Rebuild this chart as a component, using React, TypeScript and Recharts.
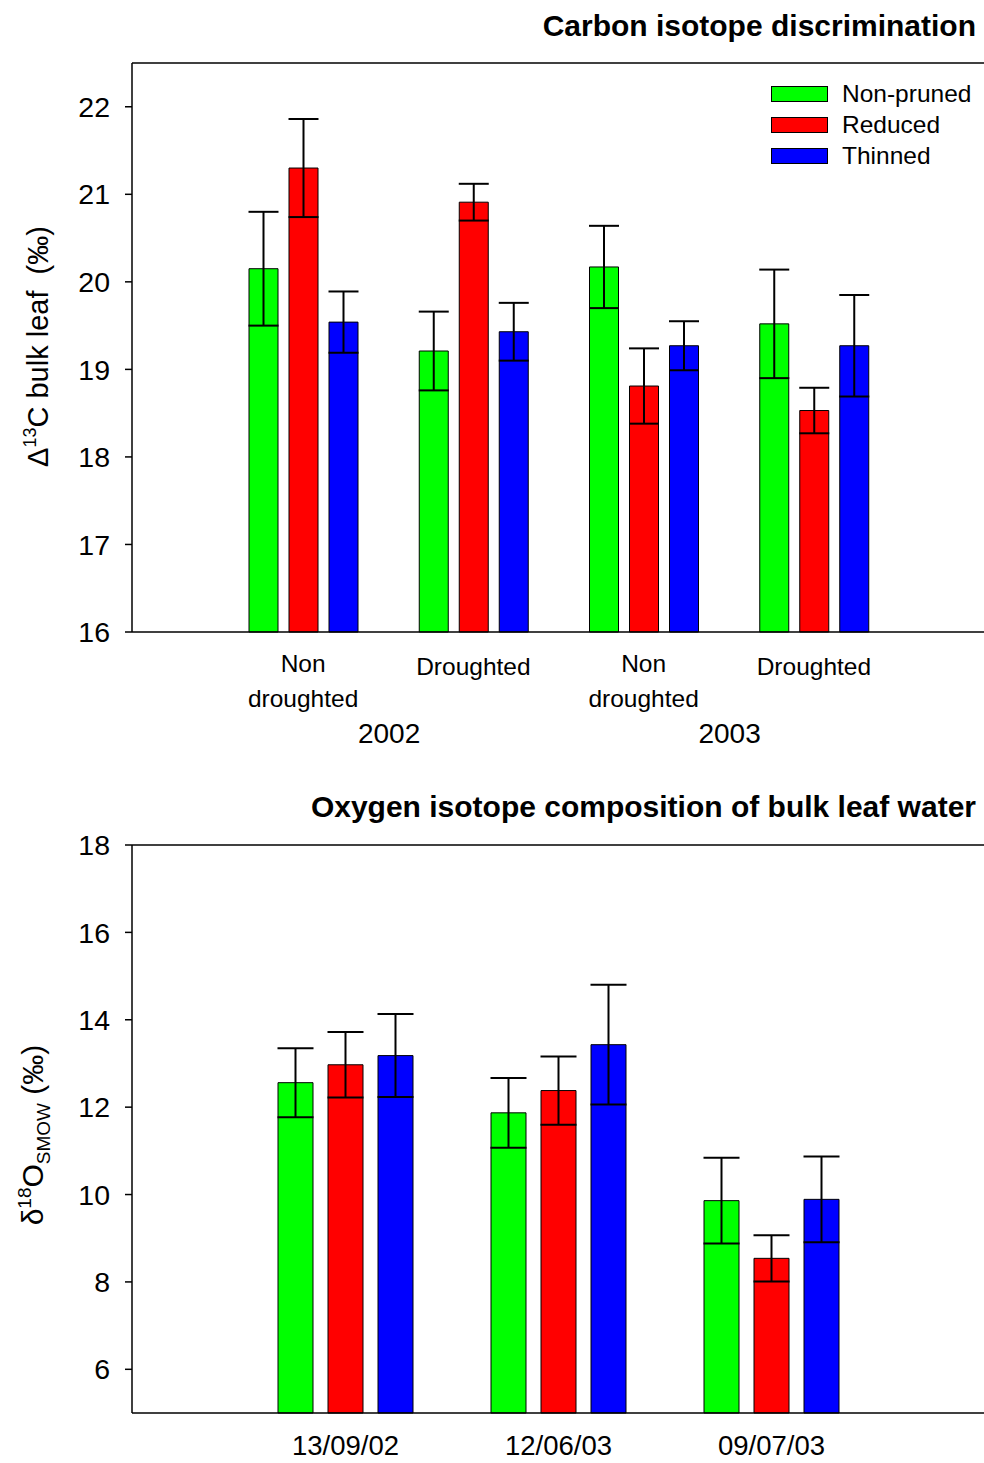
import React from 'react';
import { BarChart, Bar, XAxis, YAxis, ErrorBar, ReferenceLine, Legend } from 'recharts';

// Carbon isotope discrimination, bulk leaf
const conditions = ['Non\ndroughted', 'Droughted', 'Non\ndroughted', 'Droughted'];
const years = ['2002', '2002', '2003', '2003'];
const d13cNonPruned = [20.15, 19.21, 20.17, 19.52];
const d13cNonPrunedErr = [0.65, 0.45, 0.47, 0.62];
const d13cReduced = [21.3, 20.91, 18.81, 18.53];
const d13cReducedErr = [0.56, 0.21, 0.43, 0.26];
const d13cThinned = [19.54, 19.43, 19.27, 19.27];
const d13cThinnedErr = [0.35, 0.33, 0.28, 0.58];
const d13cTicks = [16, 17, 18, 19, 20, 21, 22];

// Oxygen isotope composition of bulk leaf water
const sampleDates = ['13/09/02', '12/06/03', '09/07/03'];
const d18oNonPruned = [12.56, 11.87, 9.86];
const d18oNonPrunedErr = [0.79, 0.8, 0.98];
const d18oReduced = [12.97, 12.38, 8.54];
const d18oReducedErr = [0.75, 0.78, 0.53];
const d18oThinned = [13.18, 13.43, 9.89];
const d18oThinnedErr = [0.95, 1.37, 0.98];
const d18oTicks = [6, 8, 10, 12, 14, 16, 18];

const treatments = [
  { key: 'nonPruned', label: 'Non-pruned', color: '#00FF00' },
  { key: 'reduced', label: 'Reduced', color: '#FF0000' },
  { key: 'thinned', label: 'Thinned', color: '#0000FF' },
];

const carbonData = conditions.map((c, i) => ({
  name: c,
  year: years[i],
  nonPruned: d13cNonPruned[i],
  nonPrunedErr: d13cNonPrunedErr[i],
  reduced: d13cReduced[i],
  reducedErr: d13cReducedErr[i],
  thinned: d13cThinned[i],
  thinnedErr: d13cThinnedErr[i],
}));

const oxygenData = sampleDates.map((d, i) => ({
  name: d,
  nonPruned: d18oNonPruned[i],
  nonPrunedErr: d18oNonPrunedErr[i],
  reduced: d18oReduced[i],
  reducedErr: d18oReducedErr[i],
  thinned: d18oThinned[i],
  thinnedErr: d18oThinnedErr[i],
}));

const FONT = '"Liberation Sans", Arial, Helvetica, sans-serif';
const axisLine = { stroke: '#000', strokeWidth: 1.5 };

function CarbonTick({ x, y, payload, index }: any) {
  const lines = String(payload.value).split('\n');
  const yr = years[index];
  return (
    <g fontFamily={FONT} fill="#000">
      {lines.length > 1 ? (
        lines.map((l, k) => (
          <text key={k} x={x} y={y + 31 + k * 35} dy="0.36em" textAnchor="middle" fontSize={24.5} fill="#000">
            {l}
          </text>
        ))
      ) : (
        <text x={x} y={y + 34} dy="0.36em" textAnchor="middle" fontSize={24.5} fill="#000">
          {lines[0]}
        </text>
      )}
      {index % 2 === 0 && (
        <text x={x + 86} y={y + 101} dy="0.36em" textAnchor="middle" fontSize={28} fill="#000">
          {yr}
        </text>
      )}
    </g>
  );
}

function DateTick({ x, y, payload }: any) {
  return (
    <text x={x} y={y + 42} textAnchor="middle" fontSize={27.5} fontFamily={FONT} fill="#000">
      {payload.value}
    </text>
  );
}

function CarbonLabel({ viewBox }: any) {
  const cx = 38;
  const cy = viewBox.y + viewBox.height / 2 - 1;
  return (
    <text
      x={cx}
      y={cy}
      transform={`rotate(-90, ${cx}, ${cy})`}
      textAnchor="middle"
      dy="0.36em"
      fontSize={29}
      fontFamily={FONT}
      fill="#000"
      style={{ whiteSpace: 'pre' }}
    >
      Δ<tspan fontSize={18} dy={-12}>13</tspan>
      <tspan dy={12}>C bulk leaf  (‰)</tspan>
    </text>
  );
}

function OxygenLabel({ viewBox }: any) {
  const cx = 32;
  const cy = viewBox.y + viewBox.height / 2 + 6;
  return (
    <text
      x={cx}
      y={cy}
      transform={`rotate(-90, ${cx}, ${cy})`}
      textAnchor="middle"
      dy="0.36em"
      fontSize={30}
      fontFamily={FONT}
      fill="#000"
      style={{ whiteSpace: 'pre' }}
    >
      δ<tspan fontSize={19} dy={-12}>18</tspan>
      <tspan dy={12}>O</tspan>
      <tspan fontSize={19} dy={7}>SMOW</tspan>
      <tspan dy={-7}> (‰)</tspan>
    </text>
  );
}

function TreatmentLegend() {
  return (
    <div style={{ fontFamily: FONT }}>
      {treatments.map((t) => (
        <div key={t.key} style={{ display: 'flex', alignItems: 'center', height: 31 }}>
          <div style={{ width: 55, height: 14, background: t.color, border: '1px solid #000' }} />
          <span style={{ marginLeft: 14, fontSize: 24.5, color: '#000' }}>{t.label}</span>
        </div>
      ))}
    </div>
  );
}

const titleStyle: React.CSSProperties = {
  position: 'absolute',
  right: 8,
  fontFamily: FONT,
  fontWeight: 'bold',
  fontSize: 30,
  color: '#000',
  whiteSpace: 'nowrap',
  lineHeight: '34px',
};

export default function App() {
  return (
    <div style={{ position: 'absolute', left: 0, top: 0, width: 984, height: 1463, background: '#fff', overflow: 'hidden' }}>
      <div style={{ ...titleStyle, top: 9 }}>Carbon isotope discrimination</div>
      <div style={{ position: 'absolute', left: 0, top: 0 }}>
        <BarChart width={984} height={760} data={carbonData} margin={{ top: 63, right: 0, left: 0, bottom: 0 }} barSize={29} barGap={11}>
          <XAxis
            dataKey="name"
            height={128}
            padding={{ left: 86, right: 85 }}
            tickLine={false}
            tickSize={0}
            tickMargin={0}
            axisLine={axisLine}
            tick={<CarbonTick />}
            interval={0}
          />
          <YAxis
            width={132}
            domain={[16, 22.5]}
            ticks={d13cTicks}
            interval={0}
            tickSize={7}
            tickMargin={15}
            tickLine={{ stroke: '#000', strokeWidth: 1.5 }}
            axisLine={axisLine}
            tick={{ fill: '#000', fontSize: 28.5, fontFamily: FONT }}
            label={<CarbonLabel />}
          />
          <ReferenceLine y={22.5} stroke="#000" strokeWidth={1.5} />
          <Legend
            layout="vertical"
            align="center"
            verticalAlign="middle"
            wrapperStyle={{ left: 771, top: 78, width: 213 }}
            content={<TreatmentLegend />}
          />
          {treatments.map((t) => (
            <Bar key={t.key} dataKey={t.key} name={t.label} fill={t.color} stroke="#000" strokeWidth={1} isAnimationActive={false}>
              <ErrorBar dataKey={`${t.key}Err`} width={15} stroke="#000" strokeWidth={2} direction="y" />
            </Bar>
          ))}
        </BarChart>
      </div>

      <div style={{ ...titleStyle, top: 790 }}>Oxygen isotope composition of bulk leaf water</div>
      <div style={{ position: 'absolute', left: 0, top: 770 }}>
        <BarChart width={984} height={693} data={oxygenData} margin={{ top: 75, right: 0, left: 0, bottom: 0 }} barSize={35} barGap={15}>
          <XAxis
            dataKey="name"
            height={50}
            padding={{ left: 107, right: 106 }}
            tickLine={false}
            tickSize={0}
            tickMargin={0}
            axisLine={axisLine}
            tick={<DateTick />}
            interval={0}
          />
          <YAxis
            width={132}
            domain={[5, 18]}
            ticks={d18oTicks}
            interval={0}
            tickSize={7}
            tickMargin={15}
            tickLine={{ stroke: '#000', strokeWidth: 1.5 }}
            axisLine={axisLine}
            tick={{ fill: '#000', fontSize: 28.5, fontFamily: FONT }}
            label={<OxygenLabel />}
          />
          <ReferenceLine y={18} stroke="#000" strokeWidth={1.5} />
          {treatments.map((t) => (
            <Bar key={t.key} dataKey={t.key} name={t.label} fill={t.color} stroke="#000" strokeWidth={1} isAnimationActive={false}>
              <ErrorBar dataKey={`${t.key}Err`} width={18} stroke="#000" strokeWidth={2} direction="y" />
            </Bar>
          ))}
        </BarChart>
      </div>
    </div>
  );
}
